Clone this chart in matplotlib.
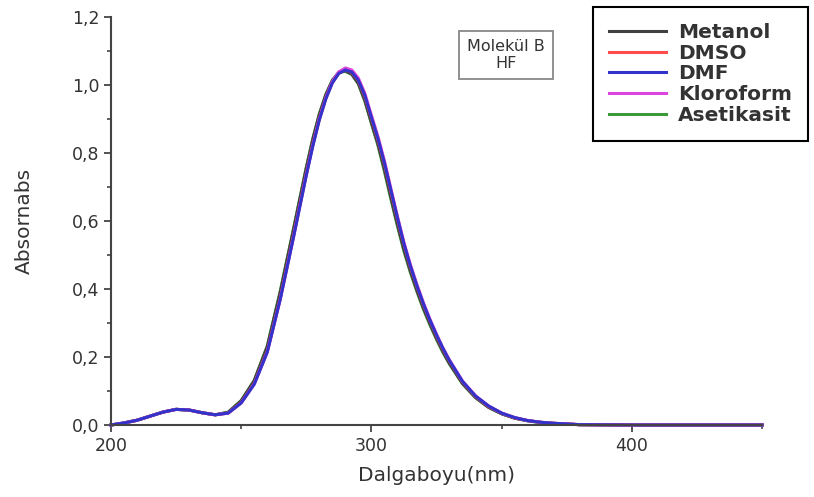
import numpy as np
import matplotlib
matplotlib.use('Agg')
import matplotlib.pyplot as plt
from matplotlib.ticker import MultipleLocator, FuncFormatter

# wavelength grid (nm)
wl = [200, 205, 210, 215, 220, 225, 230, 235, 240, 245,
      250, 255, 260, 265, 270, 275, 277.5, 280, 282.5, 285,
      287.5, 290, 292.5, 295, 297.5, 300, 302.5, 305, 307.5, 310,
      312.5, 315, 317.5, 320, 322.5, 325, 327.5, 330, 335, 340,
      345, 350, 355, 360, 365, 370, 380, 400, 450]

metanol = [0.000, 0.006, 0.014, 0.026, 0.038, 0.046, 0.044, 0.036, 0.030, 0.037,
           0.071, 0.130, 0.230, 0.390, 0.571, 0.755, 0.840, 0.913, 0.971, 1.013,
           1.037, 1.042, 1.032, 1.005, 0.955, 0.890, 0.827, 0.753, 0.670, 0.591,
           0.517, 0.453, 0.396, 0.344, 0.298, 0.255, 0.216, 0.181, 0.122, 0.081,
           0.052, 0.033, 0.020, 0.013, 0.008, 0.005, 0.001, 0.000, 0.000]

dmso = [0.000, 0.006, 0.014, 0.026, 0.038, 0.046, 0.044, 0.036, 0.030, 0.035,
        0.066, 0.122, 0.217, 0.373, 0.553, 0.738, 0.824, 0.900, 0.961, 1.007,
        1.035, 1.045, 1.037, 1.013, 0.966, 0.903, 0.840, 0.768, 0.686, 0.606,
        0.531, 0.465, 0.407, 0.354, 0.307, 0.263, 0.223, 0.188, 0.127, 0.084,
        0.055, 0.035, 0.021, 0.013, 0.008, 0.005, 0.001, 0.000, 0.000]

dmf = [0.000, 0.006, 0.014, 0.026, 0.038, 0.046, 0.044, 0.036, 0.030, 0.035,
       0.065, 0.120, 0.214, 0.370, 0.549, 0.734, 0.820, 0.897, 0.959, 1.006,
       1.034, 1.044, 1.038, 1.014, 0.969, 0.905, 0.843, 0.771, 0.690, 0.609,
       0.533, 0.467, 0.409, 0.356, 0.308, 0.265, 0.225, 0.189, 0.128, 0.085,
       0.056, 0.035, 0.022, 0.013, 0.008, 0.005, 0.001, 0.000, 0.000]

kloroform = [0.000, 0.006, 0.014, 0.026, 0.038, 0.046, 0.044, 0.036, 0.030, 0.035,
             0.065, 0.120, 0.214, 0.370, 0.550, 0.737, 0.823, 0.900, 0.962, 1.010,
             1.039, 1.050, 1.044, 1.020, 0.975, 0.911, 0.849, 0.777, 0.695, 0.614,
             0.537, 0.471, 0.413, 0.359, 0.311, 0.267, 0.226, 0.191, 0.129, 0.086,
             0.056, 0.035, 0.022, 0.013, 0.008, 0.005, 0.001, 0.000, 0.000]

asetikasit = [0.000, 0.006, 0.014, 0.026, 0.038, 0.046, 0.044, 0.036, 0.030, 0.038,
              0.072, 0.131, 0.232, 0.394, 0.574, 0.758, 0.842, 0.915, 0.972, 1.014,
              1.037, 1.040, 1.031, 1.003, 0.952, 0.887, 0.823, 0.746, 0.664, 0.585,
              0.511, 0.448, 0.392, 0.340, 0.294, 0.252, 0.213, 0.179, 0.121, 0.080,
              0.052, 0.033, 0.020, 0.012, 0.007, 0.004, 0.001, 0.000, 0.000]

# name, values, colour, zorder
series = [('Metanol', metanol, '#404040', 2.1),
          ('DMSO', dmso, '#ff4d4d', 2.2),
          ('DMF', dmf, '#3333cc', 2.4),
          ('Kloroform', kloroform, '#dd44dd', 2.3),
          ('Asetikasit', asetikasit, '#3a9a3a', 2.0)]

fig = plt.figure(figsize=(8.14, 4.97), dpi=100)
ax = fig.add_axes([111/814, 72/497, 651/814, 408/497])

for name, vals, col, z in series:
    ax.plot(wl, vals, color=col, lw=2.2, label=name, zorder=z, clip_on=False)

ax.set_xlim(200, 450)
ax.set_ylim(0, 1.2)
ax.xaxis.set_major_locator(MultipleLocator(100))
ax.xaxis.set_minor_locator(MultipleLocator(50))
ax.yaxis.set_major_locator(MultipleLocator(0.2))
ax.yaxis.set_minor_locator(MultipleLocator(0.1))
ax.yaxis.set_major_formatter(FuncFormatter(lambda v, p: f'{v:.1f}'.replace('.', ',')))
ax.xaxis.set_major_formatter(FuncFormatter(lambda v, p: f'{v:.0f}' if v < 450 else ''))

for s in ['top', 'right']:
    ax.spines[s].set_visible(False)
for s in ['left', 'bottom']:
    ax.spines[s].set_color('#444444')
    ax.spines[s].set_linewidth(1.5)

ax.tick_params(which='major', direction='out', length=5, width=1.3, color='#444444',
               labelsize=12.5, labelcolor='#333333')
ax.tick_params(which='minor', direction='out', length=3, width=1.2, color='#444444')

ax.set_xlabel('Dalgaboyu(nm)', fontsize=14.5, color='#333333')
ax.set_ylabel('Absornabs', fontsize=14.5, color='#333333')
ax.xaxis.set_label_coords(0.5, -0.10)
ax.yaxis.set_label_coords(-0.118, 0.5)

fig.text(506/814, 1 - 55/497, 'Molekül B\nHF', ha='center', va='center', fontsize=11.5,
         color='#333333', linespacing=1.15,
         bbox=dict(boxstyle='square,pad=0.5', fc='white', ec='#888888', lw=1.3))

leg = ax.legend(loc='upper right', bbox_to_anchor=(808/814, 1 - 7/497),
                bbox_transform=fig.transFigure, borderaxespad=0,
                prop={'size': 14.5, 'weight': 'bold'}, handlelength=2.8,
                handletextpad=0.6, labelspacing=0.08, borderpad=0.8,
                fancybox=False, framealpha=1)
leg.get_frame().set_edgecolor('black')
leg.get_frame().set_linewidth(1.5)
for t in leg.get_texts():
    t.set_color('#333333')

fig.savefig('out.png', dpi=100)
